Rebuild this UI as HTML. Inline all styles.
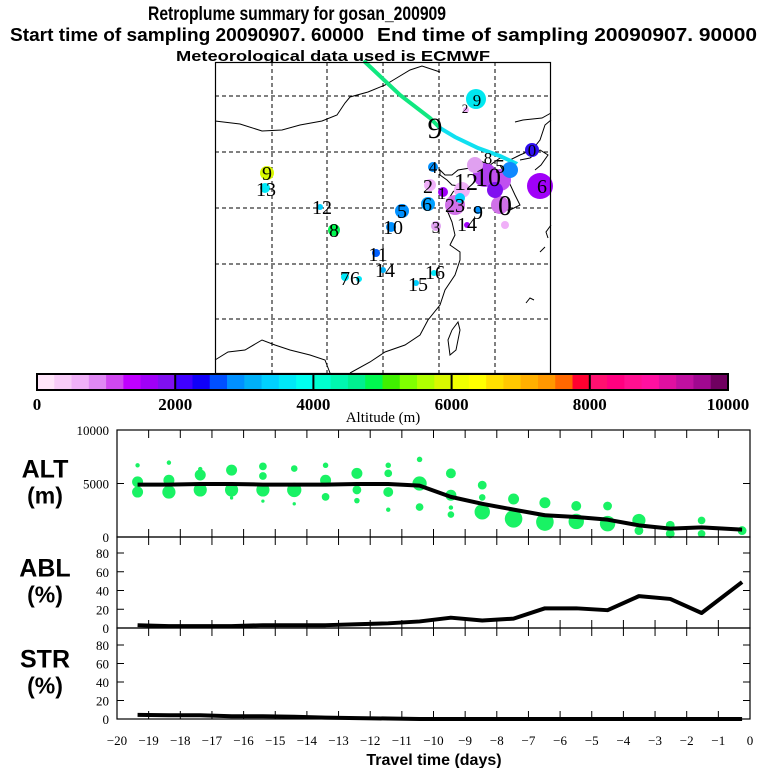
<!DOCTYPE html>
<html><head><meta charset="utf-8">
<style>
body{margin:0;background:#fff;}
#root{position:relative;width:768px;height:768px;overflow:hidden;background:#fff;font-family:"Liberation Sans",sans-serif;}
svg text{font-family:"Liberation Serif",serif;}
</style></head>
<body>
<div id="root">
<svg id="svg" width="768" height="768" viewBox="0 0 768 768">
  <g font-weight="bold">
    <text x="148" y="20" font-size="19" textLength="298" lengthAdjust="spacingAndGlyphs" style="font-family:'Liberation Sans',sans-serif">Retroplume summary for gosan_200909</text>
    <text x="10" y="41" font-size="18" textLength="354" lengthAdjust="spacingAndGlyphs" style="font-family:'Liberation Sans',sans-serif">Start time of sampling 20090907. 60000</text>
    <text x="377" y="41" font-size="18" textLength="380" lengthAdjust="spacingAndGlyphs" style="font-family:'Liberation Sans',sans-serif">End time of sampling 20090907. 90000</text>
    <text x="176" y="61" font-size="15" textLength="314" lengthAdjust="spacingAndGlyphs" style="font-family:'Liberation Sans',sans-serif">Meteorological data used is ECMWF</text>
  </g>
  <g id="map">
    <rect x="215" y="62" width="336" height="311" fill="#fff" stroke="none"/>
    <g stroke="#000" stroke-width="1" stroke-dasharray="4,3">
      <line x1="272" y1="62" x2="272" y2="373"/><line x1="327" y1="62" x2="327" y2="373"/>
      <line x1="383" y1="62" x2="383" y2="373"/><line x1="439" y1="62" x2="439" y2="373"/>
      <line x1="495" y1="62" x2="495" y2="373"/>
      <line x1="215" y1="96" x2="551" y2="96"/><line x1="215" y1="152" x2="551" y2="152"/>
      <line x1="215" y1="208" x2="551" y2="208"/><line x1="215" y1="264" x2="551" y2="264"/>
      <line x1="215" y1="319" x2="551" y2="319"/>
    </g>
    <g fill="none" stroke="#000" stroke-width="1">
      <polyline points="215,121 240,124 262,131 282,130 300,125 322,121 337,115 345,103 350,97 368,92 385,85 395,79 410,70 422,66 440,72"/>
      <polyline points="515,122 523,120 542,118 551,113"/>
      <polyline points="551,120 545,125 540,140 532,150 520,155 510,160 500,158 490,165 478,160 470,168 458,170 452,175 445,175 440,170 440,175 447,180 452,185 460,186 453,192 448,200 447,210 452,222 455,235 450,245 460,252 460,260 455,275 445,290 440,305 428,320 420,335 405,345 385,352 370,362 350,373"/>
      <polyline points="500,165 508,180 515,195 520,205 510,210 498,210"/>
      <polyline points="520,160 530,158 540,150 548,155 541,165 535,170"/>
      <polyline points="215,360 228,352 245,350 262,340 275,345 290,350 310,355 325,360 330,373"/>
      <polyline points="452,330 458,322 460,330 456,350 450,355 448,340 452,330"/>
      <polyline points="551,225 546,232 548,238"/><polyline points="540,252 545,247"/><polyline points="526,303 530,298 534,300"/>
    </g>
    <g stroke-width="4" fill="none" stroke-linecap="round">
      <polyline points="365,62 400,95 430,118 440,128" stroke="#10e880"/>
      <polyline points="440,128 455,137 478,148 500,156 515,163 505,175" stroke="#10e0f0"/>
    </g>
    <g>
      <circle cx="476" cy="99" r="10" fill="#00e8f0"/>
      <circle cx="466" cy="110" r="3" fill="#f0b0f8"/>
      <circle cx="540" cy="186" r="13" fill="#a000f8"/>
      <circle cx="532" cy="150" r="7" fill="#3010f0"/>
      <circle cx="433" cy="167" r="5" fill="#0090ff"/>
      <circle cx="267" cy="173" r="7" fill="#d8f800"/>
      <circle cx="265" cy="188" r="5" fill="#00e8f8"/>
      <circle cx="320" cy="207" r="3" fill="#00d0ff"/>
      <circle cx="334" cy="230" r="6" fill="#00f850"/>
      <circle cx="402" cy="211" r="7" fill="#0090ff"/>
      <circle cx="391" cy="227" r="5" fill="#0090ff"/>
      <circle cx="428" cy="204" r="7" fill="#00a0ff"/>
      <circle cx="436" cy="226" r="5" fill="#e0a0f0"/>
      <circle cx="376" cy="253" r="4" fill="#0060ff"/>
      <circle cx="383" cy="270" r="3" fill="#00b0f8"/>
      <circle cx="345" cy="277" r="4" fill="#00e8f8"/>
      <circle cx="359" cy="279" r="3" fill="#00e8f8"/>
      <circle cx="416" cy="283" r="3" fill="#00d0ff"/>
      <circle cx="434" cy="273" r="3" fill="#00e8f8"/>
      <circle cx="430" cy="185" r="6" fill="#f0b0f8"/>
      <circle cx="443" cy="192" r="5" fill="#a000f8"/>
      <circle cx="455" cy="205" r="10" fill="#d070e8"/>
      <circle cx="478" cy="210" r="4" fill="#0090ff"/>
      <circle cx="467" cy="225" r="3" fill="#a000f8"/>
      <circle cx="500" cy="205" r="9" fill="#d070e8"/>
      <circle cx="505" cy="225" r="4" fill="#f0b0f8"/>
      <circle cx="485" cy="175" r="12" fill="#b040f0"/>
      <circle cx="500" cy="180" r="11" fill="#c050f0"/>
      <circle cx="475" cy="165" r="8" fill="#e0a0f0"/>
      <circle cx="510" cy="170" r="8" fill="#1088ff"/>
      <circle cx="495" cy="190" r="8" fill="#8010f0"/>
      <circle cx="462" cy="190" r="8" fill="#f0b0f8"/>
      <circle cx="460" cy="198" r="5" fill="#00d0ff"/>
    </g>
    <g font-size="20" fill="#000" text-anchor="middle">
      <text x="477" y="106" font-size="17">9</text><text x="465" y="113" font-size="13">2</text>
      <text x="435" y="138" font-size="30">9</text>
      <text x="542" y="193" font-size="20">6</text><text x="532" y="156" font-size="17">0</text>
      <text x="433" y="173" font-size="17">4</text>
      <text x="267" y="180">9</text><text x="266" y="196">13</text>
      <text x="322" y="214">12</text><text x="334" y="237">8</text>
      <text x="402" y="218">5</text><text x="393" y="234">10</text><text x="427" y="211">6</text>
      <text x="436" y="233" font-size="17">3</text><text x="378" y="261">11</text>
      <text x="385" y="277">14</text><text x="350" y="285">76</text><text x="418" y="291">15</text>
      <text x="435" y="279">16</text><text x="428" y="193">2</text><text x="442" y="199" font-size="17">1</text>
      <text x="455" y="212">23</text><text x="478" y="219">9</text><text x="467" y="231">14</text>
      <text x="505" y="215" font-size="28">0</text><text x="488" y="186" font-size="26">10</text>
      <text x="466" y="190" font-size="24">12</text><text x="500" y="173" font-size="20">5</text>
      <text x="488" y="164" font-size="17">8</text>
    </g>
    <rect x="215.5" y="62.5" width="335" height="311" fill="none" stroke="#000" stroke-width="1.2"/>
  </g>
  <g id="cbar"></g>
  <g id="panels"></g>
</svg>
</div>
<script>
// ===== Colorbar data =====
const cbarColors = ["#ffe6fa","#f8ccf8","#f0b0f8","#e088f4","#d048f0","#c000ff","#a000f8","#8010f0",
"#4000ff","#1000f8","#0050ff","#0090ff","#00b0f8","#00d0ff","#00e8f8","#00fff0",
"#00ffd0","#00f8b0","#00f090","#00f850","#40f000","#80ff00","#b0ff00","#d8f800",
"#f0ff00","#ffff00","#ffe000","#ffc800","#ffb000","#ff9800","#ff6800","#ff0030",
"#ff1070","#ff0080","#ff1090","#ff10a0","#e010a0","#c010a0","#a00890","#700060"];
const cbarTicks = [0,2000,4000,6000,8000,10000];

// ===== Time panel data =====
const days = [-19.35,-18.36,-17.37,-16.38,-15.39,-14.4,-13.41,-12.42,-11.43,-10.44,-9.45,-8.46,-7.47,-6.48,-5.49,-4.5,-3.51,-2.52,-1.53,-0.25];
const altMean = [4900,4900,4950,4950,4900,4900,4900,4950,4950,4800,3750,3100,2560,2030,1870,1620,1090,780,900,690];
const altDotCol = [0,0,0,1,1,1,2,2,2,3,3,3,4,4,4,4,5,5,5,6,6,6,7,7,7,8,8,8,8,9,9,9,10,10,10,10,11,11,11,12,12,13,13,14,14,15,15,16,16,17,17,18,18,19];
const altDotVal = [6700,5150,4200,6950,5300,4200,6350,5800,4400,6250,4400,3650,6600,5700,4400,3350,6400,4400,3100,6700,5300,3750,5950,4400,3400,6700,5950,4200,2550,7250,5000,2800,5950,3900,2750,2100,4850,3700,2350,3550,1700,3200,1400,2900,1450,2900,1250,1550,600,1100,300,1550,300,600];
const altDotWeight = [2,5,5,2,5,6,2,5,6,5,6,1.5,3.5,3.5,6,1.5,3,6.5,1.5,2.5,5,3.5,5,4,2.5,2.5,3.5,4.5,2,2.5,6.5,3.5,4.5,5,2,3,4,3,7,5,8,5,8,4.5,7,4,7,6,4,4,4,3.5,3.5,4];
const ablPct = [3,2,2,2,3,3,3,4,5,7,11,8,10,21,21,19,34,31,16,49];
const strPct = [4.5,4,4,3,3,2.5,1.5,1,0.5,0,0,0,0,0,0,0,0,0,0,0];
const xTicks = [-20,-19,-18,-17,-16,-15,-14,-13,-12,-11,-10,-9,-8,-7,-6,-5,-4,-3,-2,-1,0];
const altTicks = [0,5000,10000];
const pctTicks = [0,20,40,60,80];

const NS = "http://www.w3.org/2000/svg";
function mk(tag, attrs, parent){ const e=document.createElementNS(NS,tag); for(const k in attrs) e.setAttribute(k,attrs[k]); parent.appendChild(e); return e; }

// Colorbar
const cb = document.getElementById('cbar');
const cbX0 = 37, cbX1 = 728, cbY = 374, cbH = 16;
const segW = (cbX1-cbX0)/cbarColors.length;
cbarColors.forEach((c,i)=>{
  const r = mk('rect',{x:cbX0+i*segW,y:cbY,width:segW+0.5,height:cbH,fill:c},cb);
  
  
});
mk('rect',{x:cbX0,y:cbY,width:cbX1-cbX0,height:cbH,fill:'none',stroke:'#000','stroke-width':2},cb);
function cbx(v){ return cbX0 + v/10000*(cbX1-cbX0); }
cbarTicks.forEach(v=>{
  if(v>0 && v<10000) mk('line',{x1:cbx(v),x2:cbx(v),y1:cbY,y2:cbY+cbH,stroke:'#000','stroke-width':2},cb);
  const t = mk('text',{x:cbx(v),y:410,'font-size':17,'font-weight':'bold','text-anchor':'middle'},cb);
  t.textContent = v;
  
  
});
const cbt = mk('text',{x:383,y:422,'font-size':15,'text-anchor':'middle'},cb);
cbt.textContent = 'Altitude (m)';



// Panels
const P = document.getElementById('panels');
const X0 = 117, X1 = 750;
function xs(d){ return X0 + (d+20)/20*(X1-X0); }
const panels = [
  {name:'alt', top:430, bot:537, max:10000, ticks:altTicks, lab1:'ALT', lab2:'(m)', vals:altMean},
  {name:'abl', top:537, bot:628, max:100*(628-537)/(628-553)*0.8, ticks:pctTicks, lab1:'ABL', lab2:'(%)', vals:ablPct},
  {name:'str', top:628, bot:719, max:100*(719-628)/(719-645)*0.8, ticks:pctTicks, lab1:'STR', lab2:'(%)', vals:strPct}
];
panels.forEach(p=>{
  const g = mk('g',{},P);
  
  
  const ys = v => p.bot - v/p.max*(p.bot-p.top);
  if(p.name==='alt'){
    altDotVal.forEach((v,i)=>{
      const c = mk('circle',{cx:xs(days[altDotCol[i]]),cy:ys(v),r:altDotWeight[i]*1.1,fill:'#19f264'},g);
      
      
    });
  }
  const pts = p.vals.map((v,i)=>xs(days[i])+','+ys(v)).join(' ');
  const ln = mk('polyline',{points:pts,fill:'none',stroke:'#000','stroke-width':4,'stroke-linejoin':'round'},g);
  
  
  mk('rect',{x:X0,y:p.top,width:X1-X0,height:p.bot-p.top,fill:'none',stroke:'#000','stroke-width':1.2},g);
  xTicks.forEach(d=>{
    if(d===-20||d===0) return;
    mk('line',{x1:xs(d),x2:xs(d),y1:p.top,y2:p.top+8,stroke:'#000'},g);
    mk('line',{x1:xs(d),x2:xs(d),y1:p.bot,y2:p.bot-8,stroke:'#000'},g);
  });
  p.ticks.forEach(v=>{
    const y = ys(v);
    if(v>0 && v<p.max){
      mk('line',{x1:X0,x2:X0+7,y1:y,y2:y,stroke:'#000'},g);
      mk('line',{x1:X1,x2:X1-7,y1:y,y2:y,stroke:'#000'},g);
    }
    const t = mk('text',{x:X0-8,y:y+5,'font-size':13,'text-anchor':'end'},g);
    t.textContent = v;
    
    
  });
  const l1 = mk('text',{x:45,y:(p.top+p.bot)/2-6,'font-size':25,'font-weight':'bold','text-anchor':'middle',style:"font-family:'Liberation Sans',sans-serif"},g);
  l1.textContent = p.lab1;
  
  
  const l2 = mk('text',{x:45,y:(p.top+p.bot)/2+20,'font-size':23,'font-weight':'bold','text-anchor':'middle',style:"font-family:'Liberation Sans',sans-serif"},g);
  l2.textContent = p.lab2;
  
  
});
xTicks.forEach(d=>{
  const t = mk('text',{x:xs(d),y:745,'font-size':13,'text-anchor':'middle'},P);
  t.textContent = d===0 ? '0' : '\u2212'+Math.abs(d);
  
  
});
const xt = mk('text',{x:434,y:765,'font-size':16,'font-weight':'bold','text-anchor':'middle',style:"font-family:'Liberation Sans',sans-serif"},P);
xt.textContent = 'Travel time (days)';


</script>
</body></html>
